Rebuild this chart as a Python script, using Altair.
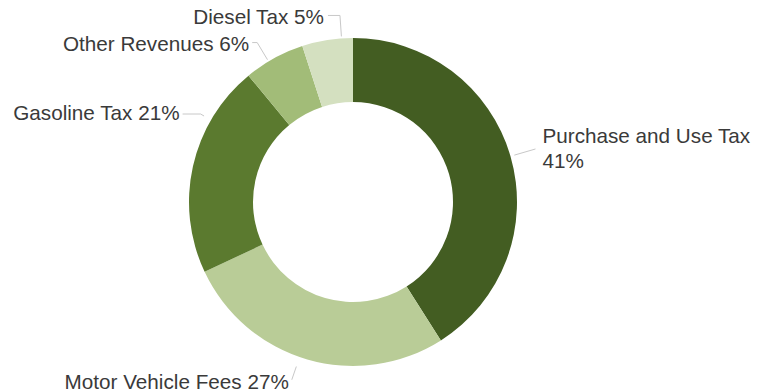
import math
import altair as alt
import pandas as pd

# ---- data -------------------------------------------------------------
categories = ["Purchase and Use Tax", "Motor Vehicle Fees", "Gasoline Tax",
              "Other Revenues", "Diesel Tax"]
shares = [41, 27, 21, 6, 5]
label_texts = ["Purchase and Use Tax\n41%", "Motor Vehicle Fees 27%",
               "Gasoline Tax 21%", "Other Revenues 6%", "Diesel Tax 5%"]
colors = ["#435d22", "#b9cc97", "#5b7a2f", "#a2bc78", "#d4e0c0"]

# ---- geometry / style -------------------------------------------------
W, H = 772, 392
CX, CY = 353, 202
R_OUT, R_IN = 164, 100
FONT = "Liberation Sans"

# per-label leader layout: angle nudge from slice mid (deg), leader start
# radius, elbow radius, horizontal run, gap to text, vertical text nudge
layout = {
    "Purchase and Use Tax": (0.0, 168, 190, 0, 7, -12),
    "Motor Vehicle Fees": (2.8, 174, 188, 0, 3, 3),
    "Gasoline Tax": (17.4, 172, 176, 18, 3, 0),
    "Other Revenues": (-2.2, 166, 186, 5, 3, 2),
    "Diesel Tax": (5.0, 166, 187, 12, 4, 3),
}

df = pd.DataFrame({"category": categories, "share": shares,
                   "order": list(range(len(categories)))})

total = sum(shares)
lead_rows, text_rows = [], []
cum = 0
for cat, sh, txt in zip(categories, shares, label_texts):
    mid = (cum + sh / 2) / total * 360
    cum += sh
    nudge, ra, rb, run, gap, dy = layout[cat]
    a = math.radians(mid + nudge)
    s, c = math.sin(a), math.cos(a)
    ax, ay = CX + ra * s, CY - ra * c
    bx, by = CX + rb * s, CY - rb * c
    side = 1 if s > 0 else -1
    cx_, cy_ = bx + side * run, by
    for i, (px, py) in enumerate([(ax, ay), (bx, by), (cx_, cy_)]):
        lead_rows.append({"category": cat, "i": i, "px": px, "py": py})
    text_rows.append({"category": cat, "text": txt,
                      "tx": cx_ + side * gap, "ty": cy_ + dy,
                      "side": "left" if side > 0 else "right"})

leads = pd.DataFrame(lead_rows)
texts = pd.DataFrame(text_rows)

arcs = alt.Chart(df).mark_arc(innerRadius=R_IN, outerRadius=R_OUT).encode(
    theta=alt.Theta("share:Q", stack=True),
    color=alt.Color("category:N",
                    scale=alt.Scale(domain=categories, range=colors),
                    legend=None),
    order=alt.Order("order:Q"),
    x=alt.value(CX),
    y=alt.value(CY),
)

lines = alt.Chart(leads).mark_line(color="#c8c8c8", strokeWidth=1).encode(
    x=alt.X("px:Q", scale=None, axis=None),
    y=alt.Y("py:Q", scale=None, axis=None),
    detail="category:N",
    order="i:Q",
)

def label_layer(side):
    return alt.Chart(texts[texts["side"] == side]).mark_text(
        align=side, baseline="middle", font=FONT, fontSize=20.7,
        color="#3a3a3a", lineBreak="\n", lineHeight=25,
    ).encode(
        x=alt.X("tx:Q", scale=None, axis=None),
        y=alt.Y("ty:Q", scale=None, axis=None),
        text="text:N",
    )

chart = alt.layer(arcs, lines, label_layer("left"), label_layer("right")).properties(
    width=W, height=H, padding=0, background="white",
    autosize=alt.AutoSizeParams(type="none"),
).configure_view(stroke=None)

chart.save("out.html", embed_options={"renderer": "svg", "actions": False})
